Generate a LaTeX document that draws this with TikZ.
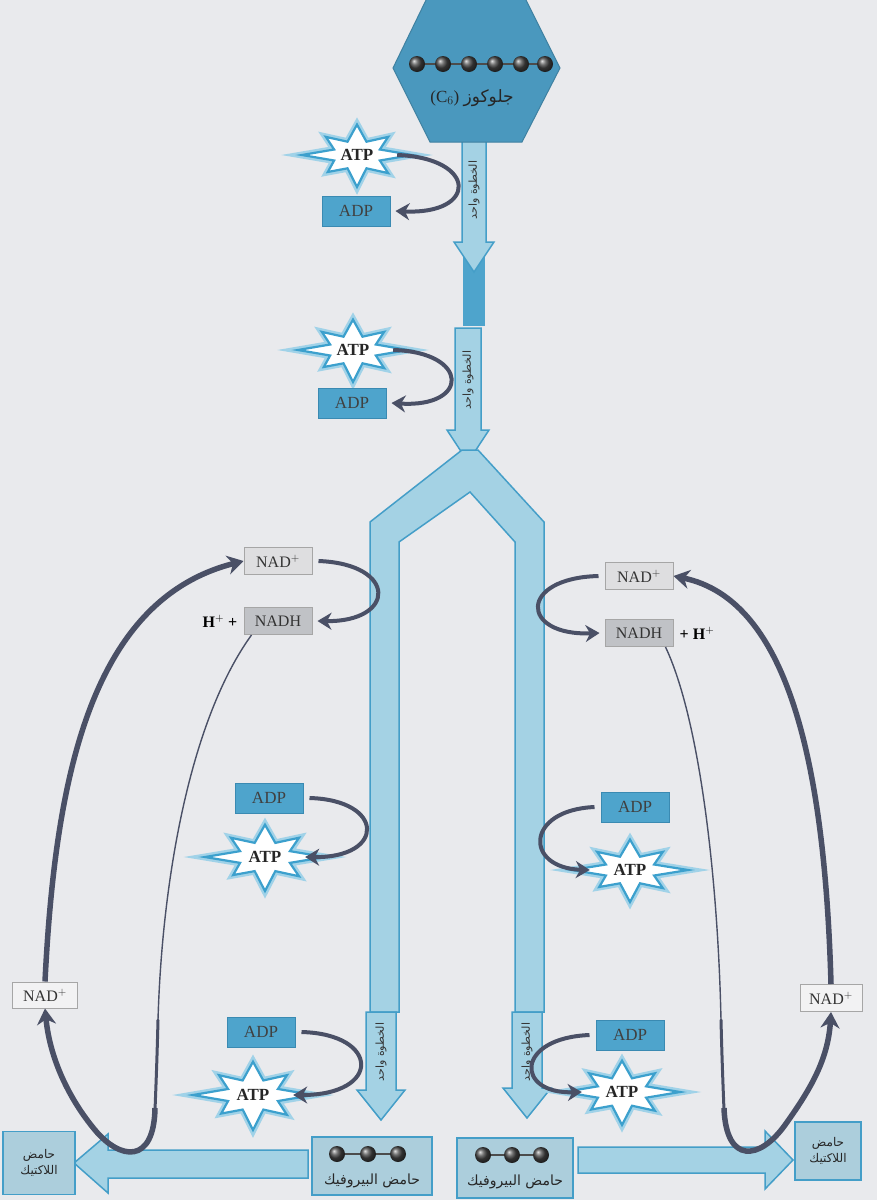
\documentclass[tikz,border=0pt]{standalone}
\usepackage{fontspec}
\setmainfont{Liberation Serif}
\newfontfamily\arabicfont[Script=Arabic]{DejaVu Sans}
\TeXXeTstate=1
\usetikzlibrary{arrows.meta,calc}
\definecolor{paper}{RGB}{233,234,237}
\definecolor{hexblue}{RGB}{74,152,190}
\definecolor{adpfill}{RGB}{78,164,204}
\definecolor{adpborder}{RGB}{58,138,178}
\definecolor{barfill}{RGB}{164,210,228}
\definecolor{barborder}{RGB}{68,158,200}
\definecolor{pyrfill}{RGB}{172,206,220}
\definecolor{nadfill}{RGB}{222,222,224}
\definecolor{nadhfill}{RGB}{192,194,198}
\definecolor{darkarr}{RGB}{74,80,102}
\definecolor{starblue}{RGB}{60,160,205}
\definecolor{starglow}{RGB}{160,210,232}
\newcommand\atpstar[4]{%
 \foreach \lw/\cl in {7/starglow,2.2/starblue}{
 \draw[line width=\lw pt,draw=\cl,fill=white,line join=miter,miter limit=20,shift={(#1,#2)}]
 (0:#3 and #4) \foreach \a/\f in {45/0.8,90/1,135/0.75,180/1,225/0.8,270/0.95,315/0.8}{ -- ({\a-22.5}:{0.45*#3} and {0.45*#4}) -- (\a:{\f*#3} and {\f*#4}) } -- (337.5:{0.45*#3} and {0.45*#4}) -- cycle;}}
\newcommand\vdown[6]{%
 \draw[lightarrow] ({#1-#4},#2) -- ({#1+#4},#2) -- ({#1+#4},{#3-#6}) -- ({#1+#5},{#3-#6}) -- (#1,#3) -- ({#1-#5},{#3-#6}) -- ({#1-#4},{#3-#6}) -- cycle;}
\begin{document}
\begin{tikzpicture}[x=1pt,y=-1pt,
 lightarrow/.style={fill=barfill,draw=barborder,line width=1.5pt,line join=miter},
 adpbox/.style={draw=adpborder,fill=adpfill,line width=1pt,minimum width=68pt,minimum height=30pt,inner sep=0pt,font=\fontsize{17}{17}\selectfont,text=black!75},
 nadbox/.style={draw=gray!70,fill=nadfill,line width=1pt,minimum width=68pt,minimum height=27pt,inner sep=0pt,font=\fontsize{16}{16}\selectfont,text=black!80},
 nadhbox/.style={nadbox,fill=nadhfill},
 atptext/.style={font=\bfseries\fontsize{17}{17}\selectfont,text=black!85,minimum width=80pt,minimum height=30pt,inner sep=0pt},
 curv/.style={draw=darkarr,line width=4pt,-{Stealth[length=14pt,width=17pt]}},
 loopthin/.style={draw=darkarr,line width=1.4pt},
 loopmid/.style={draw=darkarr,line width=3pt,line cap=round},
 loopthick/.style={draw=darkarr,line width=5.5pt,-{Stealth[length=16pt,width=19pt]}},
 steplabel/.style={rotate=90,font=\arabicfont\fontsize{11}{11}\selectfont,text=black!80},
 pyrbox/.style={draw=barborder,fill=pyrfill,line width=1.5pt,inner sep=0pt},
 arlabel/.style={font=\arabicfont\fontsize{14}{16}\selectfont,text=black!85,align=center},
 ball/.style={shading=ball,ball color=gray!55!black}]
\useasboundingbox (0,0) rectangle (877,1200);
\fill[paper] (0,0) rectangle (877,1200);

% dark bar behind first arrow
\fill[adpfill] (463,210) rectangle (485,326);
% arrows on the stem
\vdown{474}{140}{272}{12}{20}{30}
\vdown{468}{328}{462}{13}{21}{32}
\node[steplabel] (lab1) at (474,190) {\beginR الخطوة واحد\endR};
\node[steplabel] (lab2) at (468,380) {\beginR الخطوة واحد\endR};

% Y branch and long bars
\draw[lightarrow] (462,450) -- (478,450) -- (544,522) -- (544,1012) -- (515,1012) -- (515,542) -- (470,492) -- (399,542) -- (399,1012) -- (370,1012) -- (370,522) -- cycle;
% lower arrows
\vdown{381}{1012}{1120}{15}{24}{30}
\vdown{527}{1012}{1118}{15}{24}{30}
\node[steplabel] (lab3) at (381,1052) {\beginR الخطوة واحد\endR};
\node[steplabel] (lab4) at (527,1052) {\beginR الخطوة واحد\endR};

% glucose hexagon
\draw[fill=hexblue,draw=hexblue!85!black,line width=1pt] (393,68) -- (428,-4) -- (524,-4) -- (560,68) -- (522,142) -- (430,142) -- cycle;
\node (glu) at (476,70) {};
\draw[line width=1.2pt,black!70] (417,64) -- (545,64);
\foreach \bx in {417,443,469,495,521,545}{\shade[ball] (\bx,64) circle (8pt);}
\node[font=\fontsize{17}{17}\selectfont,text=black!85] (glutext) at (472,98) {(C$_6$)\ {\arabicfont\beginR جلوكوز\endR}};

% horizontal arrows to lactic acid
\draw[lightarrow] (308,1150) -- (108,1150) -- (108,1134) -- (74,1163) -- (108,1193) -- (108,1178) -- (308,1178) -- cycle;
\draw[lightarrow] (578,1147) -- (765,1147) -- (765,1131) -- (793,1160) -- (765,1189) -- (765,1173) -- (578,1173) -- cycle;

% pyruvate boxes
\node[pyrbox,minimum width=120pt,minimum height=58pt] (pyrL) at (372,1166) {};
\draw[line width=1.2pt,black!70] (337,1154) -- (398,1154);
\foreach \bx in {337,368,398}{\shade[ball] (\bx,1154) circle (8pt);}
\node[arlabel] (pyrLt) at (372,1181) {\beginR حامض البيروفيك\endR};
\node[pyrbox,minimum width=116pt,minimum height=60pt] (pyrR) at (515,1168) {};
\draw[line width=1.2pt,black!70] (483,1155) -- (541,1155);
\foreach \bx in {483,512,541}{\shade[ball] (\bx,1155) circle (8pt);}
\node[arlabel] (pyrRt) at (515,1182) {\beginR حامض البيروفيك\endR};

% lactic acid boxes
\node[pyrbox,minimum width=72pt,minimum height=63pt] (lacL) at (39,1163) {};
\node[arlabel,font=\arabicfont\fontsize{12}{16}\selectfont] at (lacL) {\beginR حامض\endR\\\beginR اللاكتيك\endR};
\node[pyrbox,minimum width=66pt,minimum height=58pt] (lacR) at (828,1151) {};
\node[arlabel,font=\arabicfont\fontsize{12}{16}\selectfont] at (lacR) {\beginR حامض\endR\\\beginR اللاكتيك\endR};

% ATP stars
\atpstar{357}{155}{55}{32}
\atpstar{353}{350}{55}{32}
\atpstar{265}{857}{60}{34}
\atpstar{630}{870}{58}{32}
\atpstar{253}{1095}{60}{35}
\atpstar{622}{1092}{58}{33}
\node[atptext] (atp1) at (357,155) {ATP};
\node[atptext] (atp2) at (353,350) {ATP};
\node[atptext] (atp3) at (265,857) {ATP};
\node[atptext] (atp4) at (630,870) {ATP};
\node[atptext] (atp5) at (253,1095) {ATP};
\node[atptext] (atp6) at (622,1092) {ATP};

% ADP boxes
\node[adpbox] (adp1) at (356,211) {ADP};
\node[adpbox] (adp2) at (352,403) {ADP};
\node[adpbox] (adp3) at (269,798) {ADP};
\node[adpbox] (adp4) at (635,807) {ADP};
\node[adpbox] (adp5) at (261,1032) {ADP};
\node[adpbox] (adp6) at (630,1035) {ADP};

% NAD boxes
\node[nadbox] (nadL) at (278,561) {NAD$^{+}$};
\node[nadhbox] (nadhL) at (278,621) {NADH};
\node[font=\bfseries\fontsize{16}{16}\selectfont,anchor=east] (hL) at (nadhL.west) {H$^{+}$ +\,};
\node[nadbox] (nadR) at (639,576) {NAD$^{+}$};
\node[nadhbox] (nadhR) at (639,633) {NADH};
\node[font=\bfseries\fontsize{16}{16}\selectfont,anchor=west] (hR) at (nadhR.east) {\,+ H$^{+}$};
\node[nadbox,minimum width=65pt,minimum height=26pt,fill=white!60!nadfill] (nadSL) at (45,995) {NAD$^{+}$};
\node[nadbox,minimum width=62pt,minimum height=27pt,fill=white!60!nadfill] (nadSR) at (831,998) {NAD$^{+}$};

% ATP -> ADP and ADP -> ATP curved arrows
\draw[curv] (atp1.east) .. controls (478,158) and (478,215) .. ([xshift=5pt]adp1.east);
\draw[curv] (atp2.east) .. controls (470,352) and (470,408) .. ([xshift=5pt]adp2.east);
\draw[curv] ([xshift=6pt]adp3.east) .. controls (385,800) and (386,858) .. (atp3.east);
\draw[curv] ([xshift=-6pt]adp4.west) .. controls (525,810) and (524,868) .. (atp4.west);
\draw[curv] ([xshift=6pt]adp5.east) .. controls (380,1034) and (382,1095) .. (atp5.east);
\draw[curv] ([xshift=-6pt]adp6.west) .. controls (515,1038) and (515,1094) .. (atp6.west);
\draw[curv] ([xshift=6pt]nadL.east) .. controls (398,564) and (396,622) .. ([xshift=5pt]nadhL.east);
\draw[curv] ([xshift=-6pt]nadR.west) .. controls (518,578) and (520,636) .. ([xshift=-5pt]nadhR.west);

% left regeneration loop
\draw[loopthin] ([xshift=8pt]nadhL.south west) .. controls (190,720) and (162,880) .. (158,1020);
\draw[loopmid] (158,1020) .. controls (157,1060) and (156,1085) .. (155,1110);
\draw[loopthick] (155,1108) .. controls (154,1165) and (120,1160) .. (95,1130) .. controls (70,1100) and (50,1060) .. (nadSL.south);
\draw[loopthick] (nadSL.north) .. controls (55,780) and (90,600) .. (nadL.west);
% right regeneration loop
\draw[loopthin] ([xshift=-8pt]nadhR.south east) .. controls (700,720) and (718,880) .. (721,1020);
\draw[loopmid] (721,1020) .. controls (722,1060) and (723,1085) .. (724,1110);
\draw[loopthick] (724,1108) .. controls (726,1165) and (760,1160) .. (785,1125) .. controls (810,1090) and (828,1060) .. (nadSR.south);
\draw[loopthick] (nadSR.north) .. controls (825,770) and (790,600) .. (nadR.east);
\end{tikzpicture}
\end{document}
